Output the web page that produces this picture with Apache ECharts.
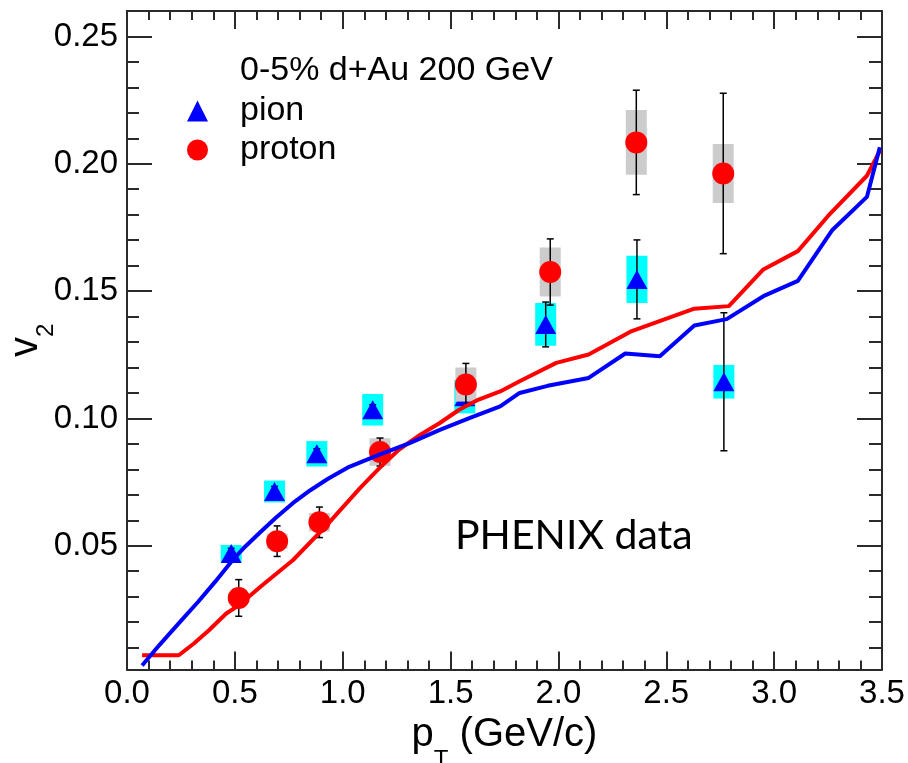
<!DOCTYPE html>
<html>
<head>
<meta charset="utf-8">
<script src="https://cdn.jsdelivr.net/npm/echarts@6/dist/echarts.min.js"></script>
<style>
  html, body { margin: 0; padding: 0; background: #ffffff; }
  #chart { width: 908px; height: 763px; }
</style>
</head>
<body>
<div id="chart"></div>
<script>
// v2 of identified hadrons, 0-5% d+Au at 200 GeV
const pionPt   = [0.483, 0.684, 0.880, 1.139, 1.566, 1.941, 2.364, 2.767];
const pionV2   = [0.0470, 0.0713, 0.0861, 0.1034, 0.1085, 0.1369, 0.1546, 0.1144];
const pionStat = [0.0020, 0.0020, 0.0020, 0.0020, 0.0020, 0.0088, 0.0155, 0.0271];
const pionSys  = [0.0033, 0.0043, 0.0050, 0.0062, 0.0065, 0.0084, 0.0093, 0.0066];

const protonPt   = [0.518, 0.696, 0.892, 1.173, 1.571, 1.962, 2.361, 2.764];
const protonV2   = [0.0295, 0.0518, 0.0592, 0.0868, 0.1133, 0.1575, 0.2084, 0.1962];
const protonStat = [0.0072, 0.0060, 0.0060, 0.0055, 0.0083, 0.0130, 0.0205, 0.0315];
const protonSys  = [0.0020, 0.0030, 0.0036, 0.0054, 0.0067, 0.0096, 0.0127, 0.0116];

// calculated v2(pT) curves
const pionCurvePt = [0.07, 0.15, 0.25, 0.33, 0.41, 0.49, 0.54, 0.62, 0.69, 0.77, 0.85, 0.93, 1.03, 1.17, 1.31, 1.45, 1.59, 1.73, 1.82, 1.95, 2.14, 2.31, 2.47, 2.63, 2.78, 2.95, 3.11, 3.27, 3.43, 3.49];
const pionCurveV2 = [0.003, 0.011, 0.0205, 0.028, 0.036, 0.0444, 0.049, 0.0555, 0.061, 0.0668, 0.0718, 0.0762, 0.081, 0.0858, 0.0903, 0.0955, 0.1002, 0.1047, 0.1100, 0.1128, 0.1159, 0.1255, 0.1244, 0.1365, 0.139, 0.148, 0.154, 0.174, 0.187, 0.2065];

const protonCurvePt = [0.07, 0.24, 0.31, 0.38, 0.46, 0.52, 0.62, 0.77, 0.92, 1.08, 1.17, 1.26, 1.36, 1.45, 1.54, 1.63, 1.73, 1.82, 1.99, 2.14, 2.34, 2.63, 2.79, 2.95, 3.11, 3.25, 3.43, 3.49];
const protonCurveV2 = [0.007, 0.007, 0.0116, 0.0168, 0.0234, 0.0267, 0.034, 0.0444, 0.0575, 0.0726, 0.0805, 0.0877, 0.0936, 0.0982, 0.1034, 0.1074, 0.1106, 0.1146, 0.1218, 0.1251, 0.1343, 0.1431, 0.1441, 0.1585, 0.1657, 0.1795, 0.1953, 0.2051];

// axis ticks
const v2Ticks = [0.05, 0.10, 0.15, 0.20, 0.25];
const v2MinorTicks = [0.01, 0.02, 0.03, 0.04, 0.06, 0.07, 0.08, 0.09, 0.11, 0.12, 0.13, 0.14, 0.16, 0.17, 0.18, 0.19, 0.21, 0.22, 0.23, 0.24];

const FONT = '"Liberation Sans", Arial, Helvetica, sans-serif';
const AXIS_COLOR = '#2a2a2a';
const BOX_HALF = 10.5;   // half width of systematic boxes, px
const CAP_HALF = 3.5;    // half width of error-bar caps, px
const Y_MIN = 0.0014, Y_MAX = 0.26;

function rows(xs, ys, es) {
  return xs.map((x, i) => [x, ys[i], es[i]]);
}
function xy(xs, ys) {
  return xs.map((x, i) => [x, ys[i]]);
}

function sysBox(color) {
  return function (params, api) {
    const x = api.value(0), y = api.value(1), e = api.value(2);
    const top = api.coord([x, y + e]);
    const bot = api.coord([x, y - e]);
    return {
      type: 'rect',
      shape: { x: top[0] - BOX_HALF, y: top[1], width: BOX_HALF * 2, height: bot[1] - top[1] },
      style: { fill: color }
    };
  };
}

function statBar(params, api) {
  const x = api.value(0), y = api.value(1), e = api.value(2);
  const top = api.coord([x, y + e]);
  const bot = api.coord([x, y - e]);
  const st = { stroke: '#000000', lineWidth: 1.5 };
  return {
    type: 'group',
    children: [
      { type: 'line', shape: { x1: top[0], y1: top[1], x2: bot[0], y2: bot[1] }, style: st },
      { type: 'line', shape: { x1: top[0] - CAP_HALF, y1: top[1], x2: top[0] + CAP_HALF, y2: top[1] }, style: st },
      { type: 'line', shape: { x1: bot[0] - CAP_HALF, y1: bot[1], x2: bot[0] + CAP_HALF, y2: bot[1] }, style: st }
    ]
  };
}

const chart = echarts.init(document.getElementById('chart'), null, { renderer: 'canvas' });

const frameLine = { show: true, lineStyle: { color: AXIS_COLOR, width: 2 } };
const tickStyle = { color: AXIS_COLOR, width: 2 };

// axis titles with subscripts
const xNameRich = {
  n: { fontSize: 40, fontFamily: FONT, color: '#000' },
  s: { fontSize: 24, fontFamily: FONT, color: '#000', padding: [50, 0, 0, 0] }
};
const yNameRich = {
  n: { fontSize: 40, fontFamily: FONT, color: '#000' },
  s: { fontSize: 24, fontFamily: FONT, color: '#000', padding: [40, 0, 0, 0] }
};

chart.setOption({
  animation: false,
  backgroundColor: '#ffffff',
  grid: { left: 127, top: 11, width: 755, height: 658.5, outerBoundsMode: 'none', containLabel: false },
  xAxis: [
    {
      type: 'value', position: 'bottom', min: 0, max: 3.5, interval: 0.5,
      axisLine: frameLine,
      axisTick: { show: true, inside: true, length: 18, lineStyle: tickStyle },
      minorTick: { show: true, splitNumber: 5, length: 9, lineStyle: tickStyle },
      splitLine: { show: false },
      axisLabel: { show: true, margin: 8, fontSize: 33, fontFamily: FONT, color: '#000',
                   formatter: v => v.toFixed(1) },
      name: '{n|p}{s|T}{n| (GeV/c)}',
      nameLocation: 'middle', nameGap: 21,
      nameTextStyle: { rich: xNameRich }
    },
    {
      type: 'value', position: 'top', min: 0, max: 3.5, interval: 0.5,
      axisLine: frameLine,
      axisTick: { show: true, inside: true, length: 18, lineStyle: tickStyle },
      minorTick: { show: true, splitNumber: 5, length: 9, lineStyle: tickStyle },
      splitLine: { show: false },
      axisLabel: { show: false }
    }
  ],
  yAxis: [
    {
      type: 'value', position: 'left', min: Y_MIN, max: Y_MAX,
      axisLine: frameLine,
      axisTick: { show: true, inside: true, length: 25, lineStyle: tickStyle, customValues: v2Ticks },
      axisLabel: { show: true, margin: 9, fontSize: 33, fontFamily: FONT, color: '#000',
                   customValues: v2Ticks, formatter: v => v.toFixed(2) },
      splitLine: { show: false },
      name: '{n|v}{s|2}',
      nameLocation: 'middle', nameGap: 69, nameMoveOverlap: false,
      nameTextStyle: { rich: yNameRich }
    },
    {
      type: 'value', position: 'left', min: Y_MIN, max: Y_MAX,
      axisLine: { show: false },
      axisTick: { show: true, inside: true, length: 12, lineStyle: tickStyle, customValues: v2MinorTicks },
      axisLabel: { show: false, customValues: v2MinorTicks },
      splitLine: { show: false }
    },
    {
      type: 'value', position: 'right', min: Y_MIN, max: Y_MAX,
      axisLine: frameLine,
      axisTick: { show: true, inside: true, length: 25, lineStyle: tickStyle, customValues: v2Ticks },
      axisLabel: { show: false, customValues: v2Ticks },
      splitLine: { show: false }
    },
    {
      type: 'value', position: 'right', min: Y_MIN, max: Y_MAX,
      axisLine: { show: false },
      axisTick: { show: true, inside: true, length: 13, lineStyle: tickStyle, customValues: v2MinorTicks },
      axisLabel: { show: false, customValues: v2MinorTicks },
      splitLine: { show: false }
    }
  ],
  legend: {
    orient: 'vertical', left: 187, top: 94, padding: 0,
    itemWidth: 21, itemHeight: 21, itemGap: 5,
    selectedMode: false,
    data: [{ name: 'pion', icon: 'triangle' }, { name: 'proton', icon: 'circle' }],
    textStyle: { fontSize: 34, fontFamily: FONT, color: '#000', lineHeight: 21, padding: [0, 0, 0, 27] }
  },
  graphic: [
    { type: 'text', left: 240, top: 54, z: 10,
      style: { text: '0-5% d+Au 200 GeV', font: '34px ' + FONT, fill: '#000' } },
    { type: 'text', left: 455, top: 515, z: 10,
      style: { text: 'PHENIX data', font: '41px Lato, "Noto Sans", sans-serif', fill: '#000' } }
  ],
  series: [
    { name: 'pion sys', type: 'custom', z: 2, renderItem: sysBox('#00ffff'),
      encode: { x: 0, y: 1 }, data: rows(pionPt, pionV2, pionSys) },
    { name: 'pion stat', type: 'custom', z: 3, renderItem: statBar,
      encode: { x: 0, y: 1 }, data: rows(pionPt, pionV2, pionStat) },
    { name: 'pion', type: 'scatter', z: 4, symbol: 'triangle', symbolSize: [21, 19],
      itemStyle: { color: '#0000ff', opacity: 1 }, data: xy(pionPt, pionV2) },
    { name: 'proton sys', type: 'custom', z: 5, renderItem: sysBox('#cccccc'),
      encode: { x: 0, y: 1 }, data: rows(protonPt, protonV2, protonSys) },
    { name: 'proton stat', type: 'custom', z: 6, renderItem: statBar,
      encode: { x: 0, y: 1 }, data: rows(protonPt, protonV2, protonStat) },
    { name: 'proton', type: 'scatter', z: 7, symbol: 'circle', symbolSize: 22,
      itemStyle: { color: '#ff0000', opacity: 1 }, data: xy(protonPt, protonV2) },
    { name: 'proton calc', type: 'line', z: 8, showSymbol: false, symbol: 'none',
      lineStyle: { color: '#ff0000', width: 4 }, data: xy(protonCurvePt, protonCurveV2) },
    { name: 'pion calc', type: 'line', z: 9, showSymbol: false, symbol: 'none',
      lineStyle: { color: '#0000ff', width: 4 }, data: xy(pionCurvePt, pionCurveV2) }
  ]
});
</script>
</body>
</html>
